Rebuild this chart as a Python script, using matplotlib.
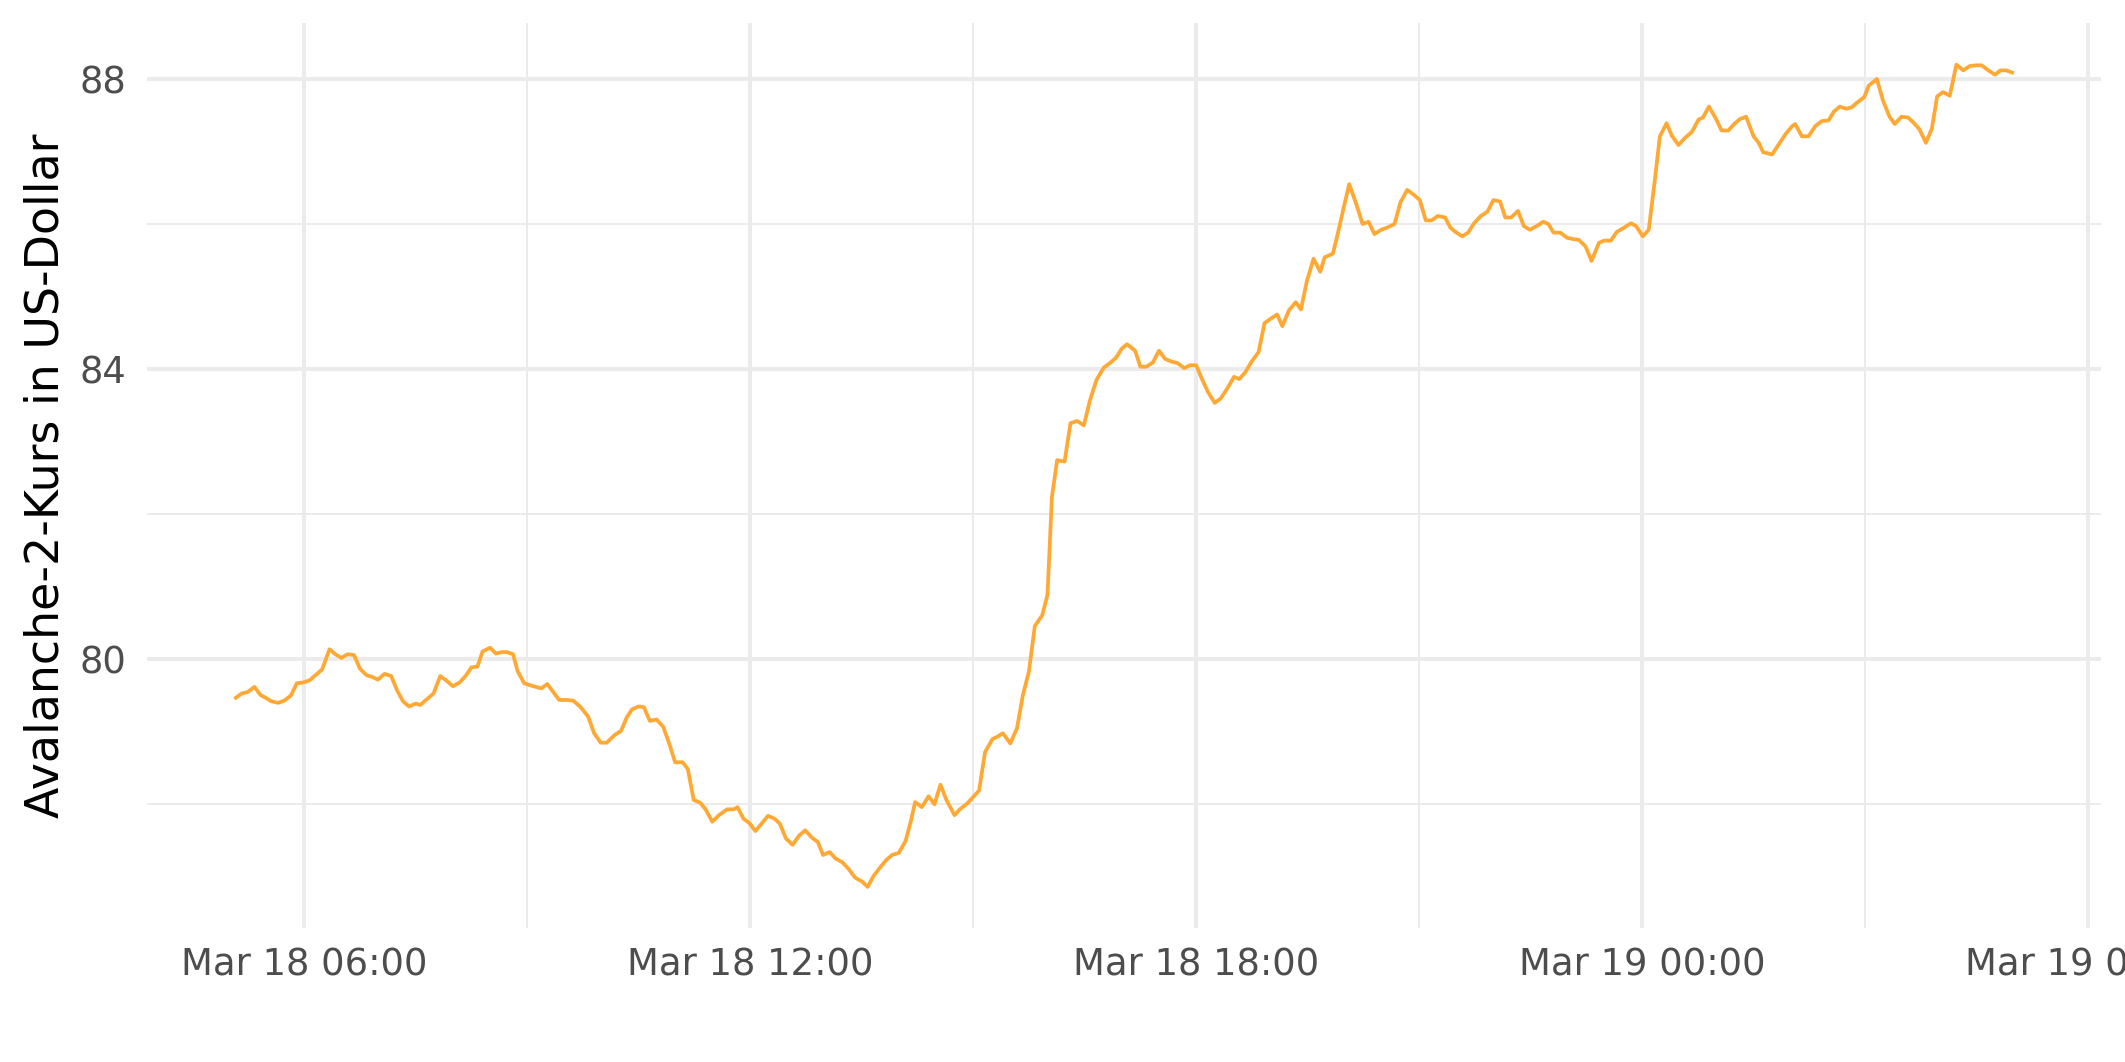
import matplotlib
matplotlib.use("Agg")
import matplotlib.pyplot as plt
import matplotlib.dates as mdates
import matplotlib.ticker as ticker
import pandas as pd

# --- Data (hours after Mar 18 00:00, price in USD)
hours = [
    5.08, 5.16, 5.24, 5.33, 5.41, 5.48, 5.56, 5.65, 5.73, 5.82, 5.90, 5.98,
    6.07, 6.15, 6.24, 6.34, 6.42, 6.50, 6.58, 6.67, 6.75, 6.84, 6.91, 6.99,
    7.08, 7.17, 7.25, 7.33, 7.41, 7.50, 7.56, 7.65, 7.74, 7.83, 7.91, 8.00,
    8.09, 8.17, 8.25, 8.33, 8.40, 8.50, 8.58, 8.66, 8.73, 8.81, 8.87, 8.96,
    9.08, 9.19, 9.27, 9.35, 9.43, 9.53, 9.62, 9.72, 9.82, 9.90, 9.99, 10.07,
    10.18, 10.26, 10.34, 10.41, 10.50, 10.57, 10.65, 10.74, 10.83, 10.91, 10.99, 11.09,
    11.16, 11.24, 11.33, 11.40, 11.49, 11.58, 11.69, 11.78, 11.83, 11.91, 11.99, 12.07,
    12.16, 12.24, 12.33, 12.40, 12.48, 12.57, 12.66, 12.74, 12.83, 12.91, 12.98, 13.07,
    13.15, 13.24, 13.33, 13.41, 13.51, 13.58, 13.66, 13.75, 13.83, 13.91, 14.00, 14.09,
    14.16, 14.22, 14.31, 14.40, 14.48, 14.56, 14.64, 14.75, 14.82, 14.92, 15.00, 15.08,
    15.16, 15.26, 15.32, 15.40, 15.50, 15.59, 15.67, 15.75, 15.83, 15.93, 16.00, 16.06,
    16.13, 16.23, 16.31, 16.40, 16.49, 16.57, 16.66, 16.76, 16.84, 16.92, 17.00, 17.07,
    17.18, 17.25, 17.33, 17.42, 17.50, 17.58, 17.67, 17.75, 17.84, 17.92, 18.00, 18.07,
    18.16, 18.25, 18.33, 18.42, 18.51, 18.58, 18.66, 18.74, 18.84, 18.92, 19.00, 19.09,
    19.16, 19.25, 19.34, 19.41, 19.49, 19.58, 19.67, 19.73, 19.84, 19.90, 19.98, 20.06,
    20.15, 20.24, 20.32, 20.40, 20.49, 20.57, 20.67, 20.75, 20.84, 20.92, 21.01, 21.09,
    21.17, 21.25, 21.35, 21.42, 21.49, 21.58, 21.66, 21.74, 21.83, 21.92, 22.00, 22.09,
    22.16, 22.24, 22.33, 22.41, 22.49, 22.58, 22.67, 22.74, 22.81, 22.90, 22.99, 23.08,
    23.15, 23.24, 23.32, 23.42, 23.49, 23.58, 23.66, 23.76, 23.85, 23.92, 24.01, 24.09,
    24.17, 24.24, 24.33, 24.40, 24.49, 24.58, 24.67, 24.76, 24.82, 24.90, 24.99, 25.07,
    25.16, 25.24, 25.32, 25.40, 25.50, 25.57, 25.63, 25.75, 25.84, 25.93, 26.02, 26.06,
    26.15, 26.24, 26.33, 26.42, 26.51, 26.58, 26.66, 26.75, 26.82, 26.91, 26.99, 27.05,
    27.16, 27.24, 27.33, 27.40, 27.49, 27.58, 27.66, 27.73, 27.82, 27.90, 27.97, 28.05,
    28.14, 28.23, 28.32, 28.41, 28.50, 28.57, 28.66, 28.75, 28.82, 28.90, 28.98,
]
price = [
    79.46, 79.52, 79.54, 79.61, 79.50, 79.46, 79.41, 79.39, 79.42, 79.49, 79.66, 79.67,
    79.70, 79.77, 79.85, 80.13, 80.06, 80.01, 80.06, 80.05, 79.86, 79.77, 79.75, 79.71,
    79.79, 79.76, 79.56, 79.41, 79.34, 79.38, 79.36, 79.44, 79.52, 79.76, 79.70, 79.62,
    79.67, 79.76, 79.88, 79.89, 80.10, 80.15, 80.07, 80.09, 80.09, 80.06, 79.83, 79.66,
    79.62, 79.59, 79.65, 79.54, 79.43, 79.43, 79.42, 79.33, 79.20, 78.97, 78.84, 78.84,
    78.95, 79.00, 79.19, 79.30, 79.34, 79.33, 79.14, 79.16, 79.06, 78.83, 78.57, 78.57,
    78.48, 78.05, 78.01, 77.92, 77.75, 77.84, 77.92, 77.92, 77.95, 77.79, 77.73, 77.62,
    77.73, 77.83, 77.79, 77.72, 77.52, 77.43, 77.56, 77.63, 77.53, 77.47, 77.29, 77.33,
    77.24, 77.19, 77.09, 76.98, 76.92, 76.85, 77.00, 77.12, 77.22, 77.29, 77.32, 77.48,
    77.75, 78.02, 77.95, 78.10, 77.99, 78.26, 78.05, 77.84, 77.92, 78.00, 78.09, 78.18,
    78.71, 78.89, 78.92, 78.97, 78.83, 79.04, 79.50, 79.82, 80.45, 80.60, 80.88, 82.23,
    82.74, 82.72, 83.25, 83.28, 83.22, 83.56, 83.85, 84.02, 84.08, 84.15, 84.28, 84.34,
    84.25, 84.03, 84.03, 84.09, 84.25, 84.14, 84.10, 84.08, 84.01, 84.05, 84.05, 83.88,
    83.68, 83.53, 83.59, 83.73, 83.89, 83.86, 83.95, 84.09, 84.23, 84.63, 84.69, 84.75,
    84.59, 84.81, 84.92, 84.82, 85.21, 85.52, 85.34, 85.54, 85.59, 85.84, 86.20, 86.55,
    86.29, 86.00, 86.03, 85.86, 85.92, 85.95, 86.00, 86.30, 86.47, 86.41, 86.33, 86.05,
    86.05, 86.11, 86.09, 85.95, 85.89, 85.83, 85.88, 86.01, 86.11, 86.17, 86.33, 86.31,
    86.09, 86.09, 86.18, 85.97, 85.92, 85.97, 86.03, 86.00, 85.88, 85.88, 85.81, 85.79,
    85.78, 85.69, 85.49, 85.74, 85.77, 85.77, 85.89, 85.95, 86.01, 85.97, 85.83, 85.92,
    86.59, 87.21, 87.39, 87.22, 87.09, 87.19, 87.27, 87.44, 87.47, 87.62, 87.46, 87.29,
    87.29, 87.38, 87.45, 87.48, 87.21, 87.12, 86.99, 86.96, 87.10, 87.24, 87.35, 87.38,
    87.21, 87.21, 87.35, 87.42, 87.43, 87.55, 87.62, 87.59, 87.61, 87.69, 87.75, 87.91,
    88.00, 87.71, 87.48, 87.38, 87.48, 87.47, 87.39, 87.31, 87.12, 87.32, 87.76, 87.82,
    87.77, 88.20, 88.12, 88.18, 88.19, 88.19, 88.12, 88.06, 88.12, 88.12, 88.09,
]

times = pd.Timestamp("2024-03-18") + pd.to_timedelta(hours, unit="h")

# --- Plot
grid_color = "#EBEBEB"
text_grey = "#4D4D4D"

fig = plt.figure(figsize=(10.625, 5.31), dpi=200)
ax = fig.add_axes([0.0692, 0.1262, 0.9195, 0.8517])

ax.plot(times, price, color="#FFA833", linewidth=1.35, zorder=3)
ax.margins(x=0.05, y=0.05)

ax.xaxis.set_major_locator(mdates.HourLocator(byhour=[0, 6, 12, 18]))
ax.xaxis.set_minor_locator(mdates.HourLocator(byhour=[3, 9, 15, 21]))
ax.xaxis.set_major_formatter(mdates.DateFormatter("%b %d %H:%M"))
ax.yaxis.set_major_locator(ticker.MultipleLocator(4))
ax.yaxis.set_minor_locator(ticker.MultipleLocator(2))

ax.grid(which="major", color=grid_color, linewidth=1.45)
ax.grid(which="minor", color=grid_color, linewidth=0.72)
ax.set_axisbelow(True)
for s in ax.spines.values():
    s.set_visible(False)

ax.tick_params(axis="both", which="both", length=0, labelsize=13.3, labelcolor=text_grey)
ax.tick_params(axis="x", pad=6.5)
ax.tick_params(axis="y", pad=7.5)

fig.text(0.0215, 1 - 476 / 1062, "Avalanche-2-Kurs in US-Dollar", rotation=90,
         ha="center", va="center", fontsize=16.5, color="black")

fig.savefig("out.png", dpi=200)
